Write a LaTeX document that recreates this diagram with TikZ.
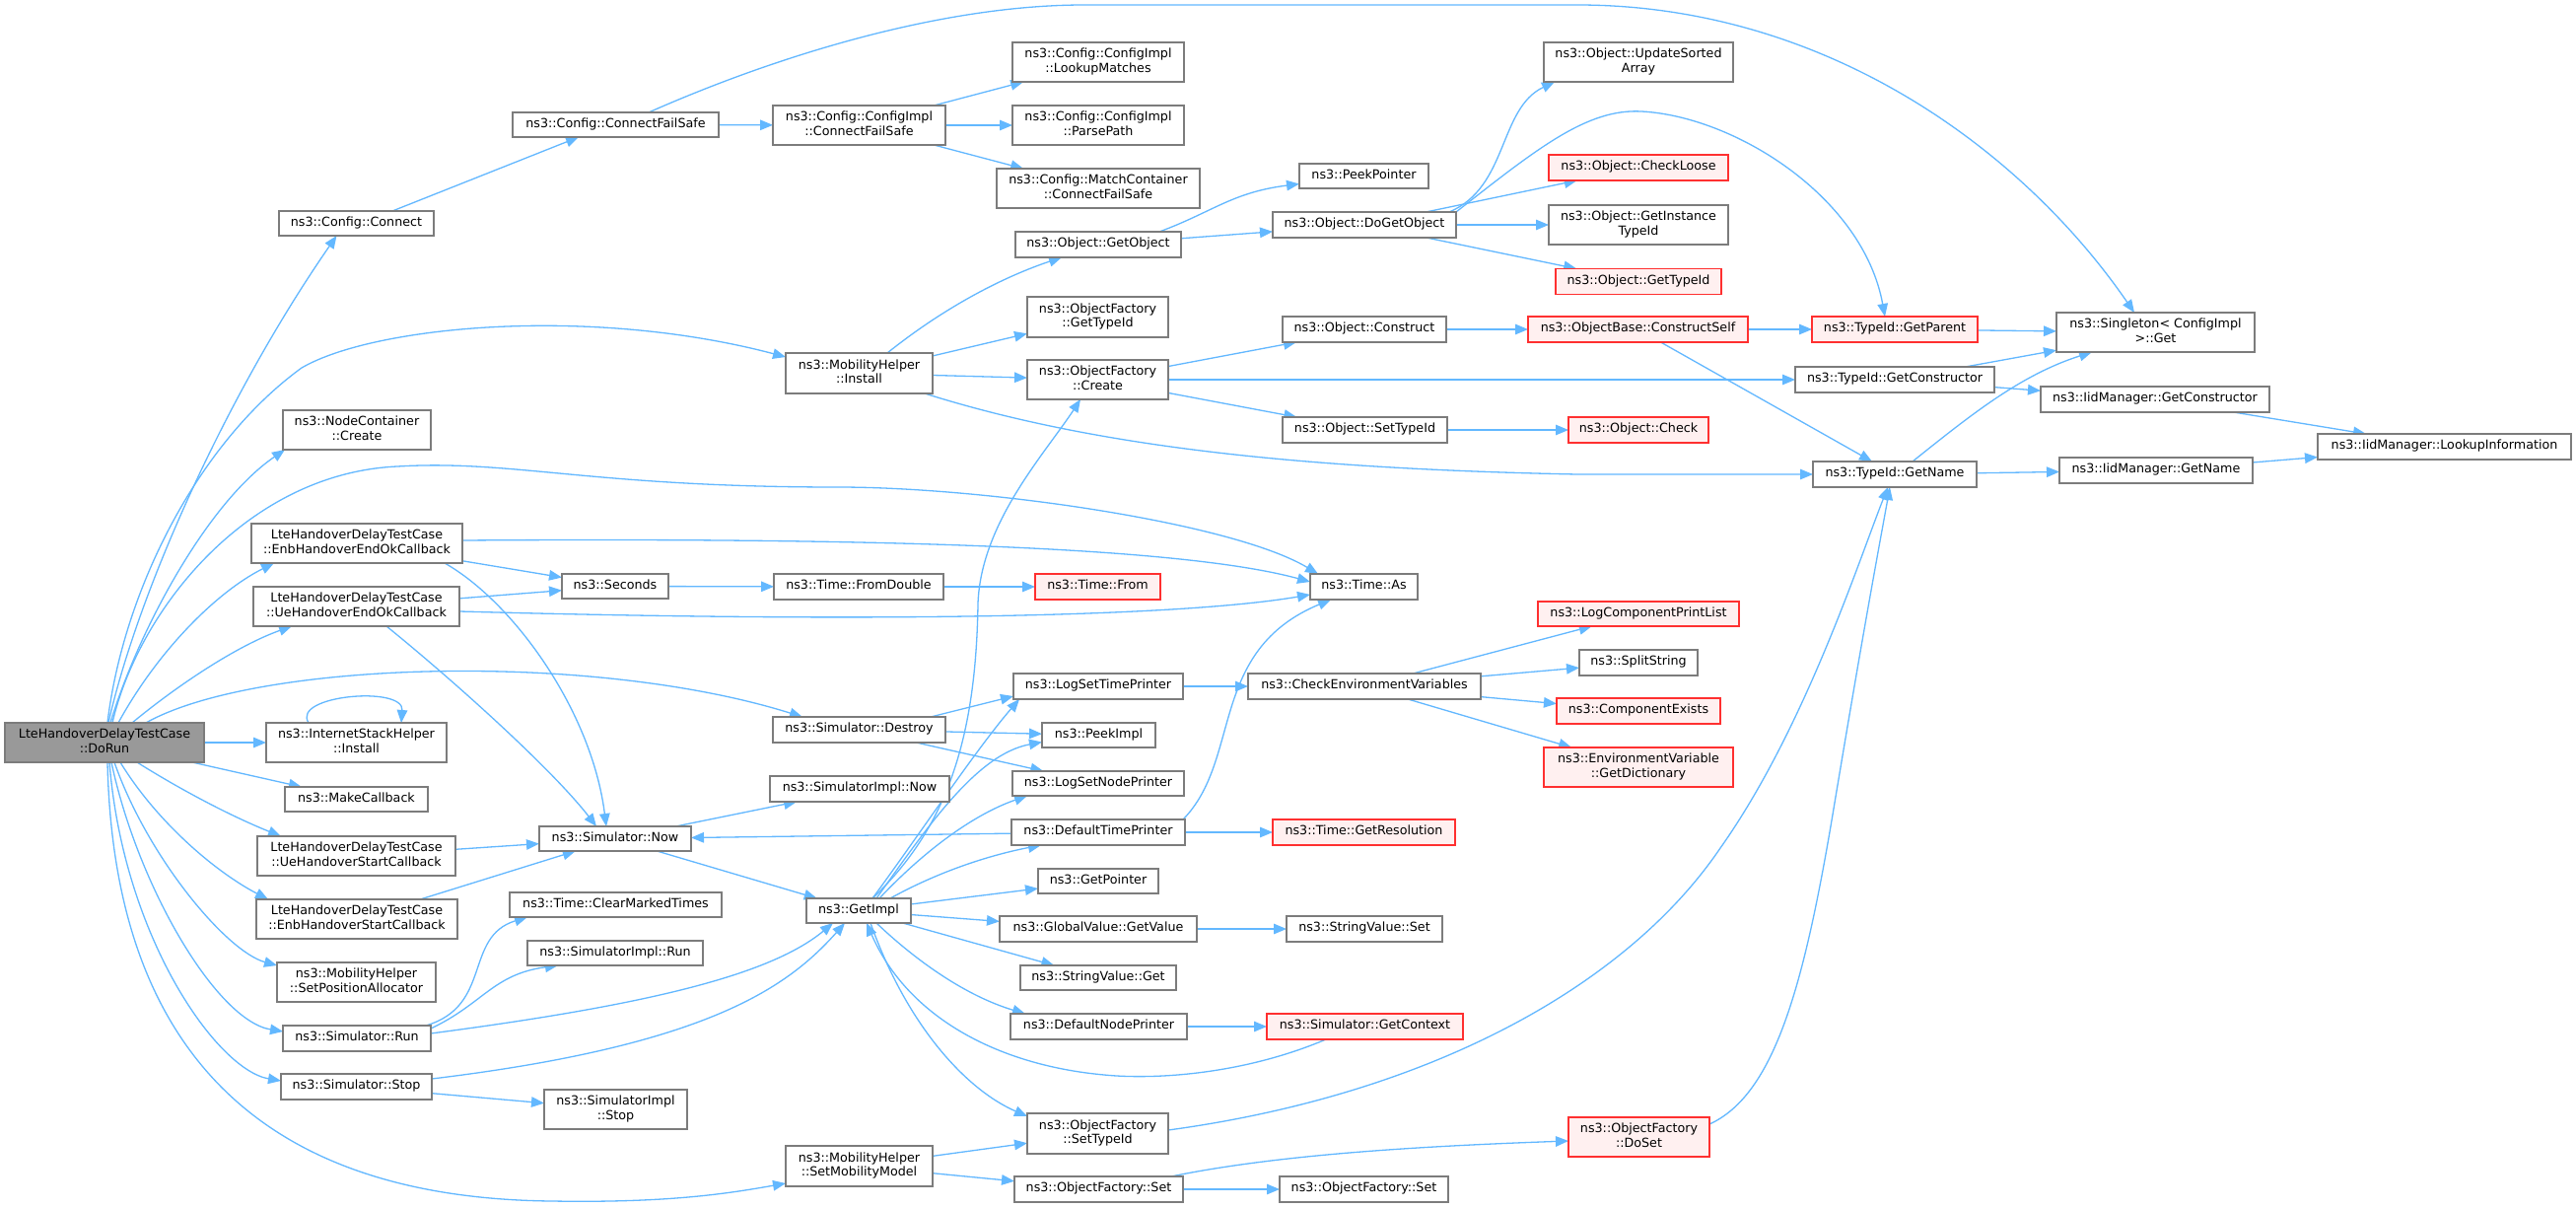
\documentclass[tikz,border=0pt]{standalone}
\usepackage{fontspec}
\setmainfont{DejaVu Sans}
\usetikzlibrary{arrows.meta}
\definecolor{edgec}{HTML}{63B8FF}
\definecolor{bord}{HTML}{7C7C7C}
\definecolor{redfill}{HTML}{FFF0F0}
\definecolor{rootfill}{HTML}{999999}
\definecolor{redbord}{HTML}{FF3030}
\pgfdeclarelayer{back}
\pgfdeclarelayer{edges}
\pgfsetlayers{back,edges,main}
\tikzset{
  box/.style={draw=bord, fill=white, line width=1.3pt, inner sep=0pt, outer sep=0pt, align=center,
    font=\fontsize{12.7}{14.4}\selectfont},
  redbox/.style={box, draw=redbord, fill=redfill},
  rootbox/.style={box, fill=rootfill},
  edge/.style={draw=edgec, line width=1.3pt, -{Triangle[length=13pt,width=10.5pt]}},
}
\newcommand\bx[7]{\node[#6, minimum width=#4pt, minimum height=#5pt] (#1) at (#2,#3) {#7};}
\begin{document}
\begin{tikzpicture}[x=1pt,y=-1pt]
\useasboundingbox (0,0) rectangle (2613,1225);
\begin{pgfonlayer}{back}
\fill[white] (0,0) rectangle (2613,1225);
\end{pgfonlayer}
% column 0
\bx{dorun}{106}{753}{202}{40}{rootbox}{\strut LteHandoverDelayTestCase\\\strut ::DoRun}
% column 1
\bx{connect}{361.5}{226.5}{157}{25}{box}{\strut ns3::Config::Connect}
\bx{nodecont}{362}{436}{150}{40}{box}{\strut ns3::NodeContainer\\\strut ::Create}
\bx{enbEndOk}{362}{551}{214}{40}{box}{\strut LteHandoverDelayTestCase\\\strut ::EnbHandoverEndOkCallback}
\bx{ueEndOk}{361.5}{615}{209}{40}{box}{\strut LteHandoverDelayTestCase\\\strut ::UeHandoverEndOkCallback}
\bx{inet}{361.5}{753}{183}{40}{box}{\strut ns3::InternetStackHelper\\\strut ::Install}
\bx{makecb}{361.5}{810.5}{145}{25}{box}{\strut ns3::MakeCallback}
\bx{ueStart}{361.5}{868}{201}{40}{box}{\strut LteHandoverDelayTestCase\\\strut ::UeHandoverStartCallback}
\bx{enbStart}{362}{932}{204}{40}{box}{\strut LteHandoverDelayTestCase\\\strut ::EnbHandoverStartCallback}
\bx{setPos}{361.5}{996}{161}{40}{box}{\strut ns3::MobilityHelper\\\strut ::SetPositionAllocator}
\bx{simRun}{362}{1053}{150}{26}{box}{\strut ns3::Simulator::Run}
\bx{simStop}{361.5}{1102}{153}{26}{box}{\strut ns3::Simulator::Stop}
% column 2
\bx{cfs}{624.5}{126.5}{209}{25}{box}{\strut ns3::Config::ConnectFailSafe}
\bx{seconds}{624}{594.5}{108}{25}{box}{\strut ns3::Seconds}
\bx{simNow}{624}{850.5}{154}{25}{box}{\strut ns3::Simulator::Now}
\bx{clearMarked}{624.5}{917.5}{215}{25}{box}{\strut ns3::Time::ClearMarkedTimes}
\bx{implRun}{624}{966.5}{178}{25}{box}{\strut ns3::SimulatorImpl::Run}
\bx{implStop}{624.5}{1125}{145}{40}{box}{\strut ns3::SimulatorImpl\\\strut ::Stop}
% column 3
\bx{cicfs}{871.5}{127}{175}{40}{box}{\strut ns3::Config::ConfigImpl\\\strut ::ConnectFailSafe}
\bx{mobInstall}{871.5}{378.5}{149}{41}{box}{\strut ns3::MobilityHelper\\\strut ::Install}
\bx{fromDouble}{871}{595}{172}{26}{box}{\strut ns3::Time::FromDouble}
\bx{simDestroy}{871.5}{740}{175}{26}{box}{\strut ns3::Simulator::Destroy}
\bx{implNow}{872}{800}{182}{26}{box}{\strut ns3::SimulatorImpl::Now}
\bx{getImpl}{871}{923.5}{106}{25}{box}{\strut ns3::GetImpl}
\bx{setMob}{871.5}{1182.5}{149}{41}{box}{\strut ns3::MobilityHelper\\\strut ::SetMobilityModel}
% column 4
\bx{lookup}{1114}{63}{174}{40}{box}{\strut ns3::Config::ConfigImpl\\\strut ::LookupMatches}
\bx{parse}{1114}{127}{174}{40}{box}{\strut ns3::Config::ConfigImpl\\\strut ::ParsePath}
\bx{mccfs}{1114}{191}{206}{40}{box}{\strut ns3::Config::MatchContainer\\\strut ::ConnectFailSafe}
\bx{getObject}{1114}{248}{168}{26}{box}{\strut ns3::Object::GetObject}
\bx{ofGetTypeId}{1113.5}{321.5}{143}{41}{box}{\strut ns3::ObjectFactory\\\strut ::GetTypeId}
\bx{ofCreate}{1113.5}{385}{143}{40}{box}{\strut ns3::ObjectFactory\\\strut ::Create}
\bx{timeFrom}{1113.5}{595}{127}{26}{redbox}{\strut ns3::Time::From}
\bx{logSetTime}{1114}{696}{172}{26}{box}{\strut ns3::LogSetTimePrinter}
\bx{peekImpl}{1114.5}{745.5}{115}{25}{box}{\strut ns3::PeekImpl}
\bx{logSetNode}{1114}{794.5}{174}{25}{box}{\strut ns3::LogSetNodePrinter}
\bx{defTime}{1114}{844}{176}{26}{box}{\strut ns3::DefaultTimePrinter}
\bx{getPointer}{1114}{893.5}{122}{25}{box}{\strut ns3::GetPointer}
\bx{gvGet}{1114}{942}{200}{26}{box}{\strut ns3::GlobalValue::GetValue}
\bx{svGet}{1114}{991.5}{158}{25}{box}{\strut ns3::StringValue::Get}
\bx{defNode}{1114.5}{1041}{179}{26}{box}{\strut ns3::DefaultNodePrinter}
\bx{ofSetTypeId}{1113.5}{1149.5}{143}{41}{box}{\strut ns3::ObjectFactory\\\strut ::SetTypeId}
\bx{ofSet1}{1114.5}{1206}{171}{26}{box}{\strut ns3::ObjectFactory::Set}
% column 5
\bx{peekPointer}{1383.5}{178.5}{131}{25}{box}{\strut ns3::PeekPointer}
\bx{doGetObject}{1384}{228}{186}{26}{box}{\strut ns3::Object::DoGetObject}
\bx{objConstruct}{1384}{334}{166}{26}{box}{\strut ns3::Object::Construct}
\bx{objSetTypeId}{1384.5}{436}{167}{26}{box}{\strut ns3::Object::SetTypeId}
\bx{timeAs}{1383.5}{595}{109}{26}{box}{\strut ns3::Time::As}
\bx{checkEnv}{1384}{696}{236}{26}{box}{\strut ns3::CheckEnvironmentVariables}
\bx{getRes}{1383.5}{844}{185}{26}{redbox}{\strut ns3::Time::GetResolution}
\bx{svSet}{1384}{942}{158}{26}{box}{\strut ns3::StringValue::Set}
\bx{getContext}{1384.5}{1041}{199}{26}{redbox}{\strut ns3::Simulator::GetContext}
\bx{ofSet2}{1383.5}{1206}{171}{26}{box}{\strut ns3::ObjectFactory::Set}
% column 6
\bx{updateSorted}{1662}{63}{192}{40}{box}{\strut ns3::Object::UpdateSorted\\\strut Array}
\bx{checkLoose}{1662}{170}{182}{26}{redbox}{\strut ns3::Object::CheckLoose}
\bx{getInstTypeId}{1662}{228}{182}{40}{box}{\strut ns3::Object::GetInstance\\\strut TypeId}
\bx{objGetTypeId}{1662}{285.5}{168}{26}{redbox}{\strut ns3::Object::GetTypeId}
\bx{constructSelf}{1661.5}{334}{223}{26}{redbox}{\strut ns3::ObjectBase::ConstructSelf}
\bx{objCheck}{1662}{436}{142}{26}{redbox}{\strut ns3::Object::Check}
\bx{logCompPrint}{1662}{622.5}{204}{25}{redbox}{\strut ns3::LogComponentPrintList}
\bx{splitString}{1662}{672}{120}{26}{box}{\strut ns3::SplitString}
\bx{compExists}{1662}{721}{166}{26}{redbox}{\strut ns3::ComponentExists}
\bx{envDict}{1662}{778}{192}{40}{redbox}{\strut ns3::EnvironmentVariable\\\strut ::GetDictionary}
\bx{doSet}{1662.5}{1153}{143}{40}{redbox}{\strut ns3::ObjectFactory\\\strut ::DoSet}
% column 7
\bx{getParent}{1922}{334}{168}{26}{redbox}{\strut ns3::TypeId::GetParent}
\bx{getConstructor}{1922}{385}{202}{26}{box}{\strut ns3::TypeId::GetConstructor}
\bx{getName}{1922}{481}{166}{26}{box}{\strut ns3::TypeId::GetName}
% column 8
\bx{singleton}{2186.5}{337}{201}{40}{box}{\strut ns3::Singleton< ConfigImpl\\\strut >::Get}
\bx{iidGetConstructor}{2186}{405}{232}{26}{box}{\strut ns3::IidManager::GetConstructor}
\bx{iidGetName}{2187}{477}{196}{26}{box}{\strut ns3::IidManager::GetName}
% column 9
\bx{lookupInfo}{2479.5}{453}{257}{26}{box}{\strut ns3::IidManager::LookupInformation}

\begin{pgfonlayer}{edges}
% from DoRun
\draw[edge] ([xshift=3pt]dorun.north) .. controls (125,600) and (200,450) .. (306,373) .. controls (380,330) and (600,310) .. ([yshift=-4pt]mobInstall.north west);
\draw[edge] ([xshift=4pt]dorun.north) .. controls (140,600) and (230,400) .. ([xshift=-20pt]connect.south);
\draw[edge] ([xshift=6pt]dorun.north) .. controls (140,640) and (210,510) .. ([xshift=2pt]nodecont.south west);
\draw[edge] ([xshift=8pt]dorun.north) .. controls (140,620) and (250,480) .. (403,473) .. controls (520,466) and (600,494) .. (850,494) .. controls (1000,494) and (1250,530) .. ([xshift=8pt]timeAs.north west);
\draw[edge] ([xshift=14pt]dorun.north) .. controls (160,660) and (220,600) .. ([xshift=23pt]enbEndOk.south west);
\draw[edge] ([xshift=28pt]dorun.north) .. controls (180,695) and (240,655) .. ([xshift=39pt]ueEndOk.south west);
\draw[edge] ([xshift=42pt]dorun.north) .. controls (260,670) and (600,660) .. ([xshift=30pt]simDestroy.north west);
\draw[edge] (dorun) -- (inet);
\draw[edge] (dorun) -- (makecb);
\draw[edge] ([xshift=33pt]dorun.south) .. controls (190,805) and (240,830) .. ([xshift=24pt]ueStart.north west);
\draw[edge] ([xshift=16pt]dorun.south) .. controls (160,835) and (220,885) .. ([xshift=12pt]enbStart.north west);
\draw[edge] ([xshift=10pt]dorun.south) .. controls (150,870) and (230,965) .. ([yshift=-3pt]setPos.north west);
\draw[edge] ([xshift=7pt]dorun.south) .. controls (140,900) and (220,1035) .. ([yshift=-6pt]simRun.north west);
\draw[edge] ([xshift=5pt]dorun.south) .. controls (125,950) and (220,1085) .. ([yshift=-7pt]simStop.north west);
\draw[edge] ([xshift=3pt]dorun.south) .. controls (115,1050) and (250,1215) .. (560,1218) .. controls (680,1220) and (740,1210) .. ([yshift=3pt]setMob.south west);
\draw[edge] ([xshift=-48.5pt]inet.north) .. controls (295,705) and (410,695) .. ([xshift=45.5pt]inet.north);
% column 1 sources
\draw[edge] ([xshift=36.5pt]connect.north) -- ([xshift=-37.5pt]cfs.south);
\draw[edge] (ueStart) -- (simNow);
\draw[edge] (enbStart) -- (simNow);
\draw[edge] (enbEndOk) -- (seconds);
\draw[edge] ([yshift=3pt]enbEndOk.east) .. controls (900,545) and (1200,555) .. ([yshift=5pt]timeAs.west);
\draw[edge] ([xshift=-18pt]enbEndOk.south east) .. controls (520,610) and (600,720) .. ([xshift=-9pt]simNow.north);
\draw[edge] (ueEndOk) -- (seconds);
\draw[edge] ([yshift=-5pt]ueEndOk.east) .. controls (900,632) and (1200,625) .. ([yshift=-8pt]timeAs.west);
\draw[edge] ([xshift=30.5pt]ueEndOk.south) .. controls (460,690) and (560,780) .. ([xshift=-19pt]simNow.north);
\draw[edge] ([xshift=-5pt]simRun.north east) .. controls (500,1020) and (470,950) .. ([xshift=18pt]clearMarked.south west);
\draw[edge] ([yshift=-3pt]simRun.north east) .. controls (490,1018) and (500,988) .. ([xshift=31pt]implRun.south west);
\draw[edge] ([yshift=5pt]simRun.east) .. controls (650,1020) and (780,990) .. ([xshift=27pt]getImpl.south west);
\draw[edge] ([yshift=-5pt]simStop.north east) .. controls (720,1060) and (800,1000) .. ([xshift=39pt]getImpl.south west);
\draw[edge] (simStop) -- (implStop);
% column 2 sources
\draw[edge] (cfs) -- (cicfs);
\draw[edge] ([xshift=33.5pt]cfs.north) .. controls (780,60) and (950,5) .. (1100,5) -- (1600,5) .. controls (1850,5) and (2050,150) .. ([xshift=-21.5pt]singleton.north);
\draw[edge] (seconds) -- (fromDouble);
\draw[edge] (simNow) -- (implNow);
\draw[edge] (simNow) -- (getImpl);
% column 3 sources
\draw[edge] (cicfs) -- (lookup);
\draw[edge] (cicfs) -- (parse);
\draw[edge] (cicfs) -- (mccfs);
\draw[edge] ([xshift=28.5pt]mobInstall.north) .. controls (960,310) and (1020,280) .. ([xshift=47pt]getObject.south west);
\draw[edge] (mobInstall) -- (ofGetTypeId);
\draw[edge] (mobInstall) -- (ofCreate);
\draw[edge] ([xshift=-8pt]mobInstall.south east) .. controls (1100,450) and (1300,475) .. (1600,481) -- (getName.west);
\draw[edge] (fromDouble) -- (timeFrom);
\draw[edge] ([xshift=72.5pt]simDestroy.north) -- ([yshift=3pt]logSetTime.south west);
\draw[edge] (simDestroy) -- (peekImpl);
\draw[edge] (simDestroy) -- (logSetNode);
\draw[edge] ([xshift=14pt]getImpl.north) .. controls (960,840) and (990,750) .. (992,612) .. controls (995,530) and (1060,460) .. ([xshift=54pt]ofCreate.south west);
\draw[edge] ([xshift=14pt]getImpl.north) .. controls (930,850) and (990,760) .. ([xshift=6pt]logSetTime.south west);
\draw[edge] ([xshift=18pt]getImpl.north) .. controls (940,840) and (990,765) .. ([yshift=-7pt]peekImpl.west);
\draw[edge] ([xshift=21pt]getImpl.north) .. controls (940,860) and (990,825) .. ([xshift=15pt]logSetNode.south west);
\draw[edge] ([xshift=32pt]getImpl.north) .. controls (950,885) and (1000,868) .. ([xshift=30pt]defTime.south west);
\draw[edge] (getImpl) -- (getPointer);
\draw[edge] (getImpl) -- (gvGet);
\draw[edge] (getImpl) -- (svGet);
\draw[edge] ([xshift=18pt]getImpl.south) .. controls (930,975) and (980,1010) .. ([xshift=15pt]defNode.north west);
\draw[edge] ([xshift=12pt]getImpl.south) .. controls (920,1040) and (980,1105) .. ([yshift=-3pt]ofSetTypeId.north west);
\draw[edge] (setMob) -- (ofSetTypeId);
\draw[edge] (setMob) -- (ofSet1);
% column 4 sources
\draw[edge] ([xshift=-22pt]getObject.north east) .. controls (1230,215) and (1250,195) .. ([yshift=-8pt]peekPointer.west);
\draw[edge] (getObject) -- (doGetObject);
\draw[edge] (ofCreate) -- (objConstruct);
\draw[edge] (ofCreate) -- (getConstructor);
\draw[edge] (ofCreate) -- (objSetTypeId);
\draw[edge] (logSetTime) -- (checkEnv);
\draw[edge] (defTime) -- (simNow);
\draw[edge] ([xshift=-2pt]defTime.north east) .. controls (1260,770) and (1225,660) .. ([xshift=-33.5pt]timeAs.south);
\draw[edge] (defTime) -- (getRes);
\draw[edge] (gvGet) -- (svSet);
\draw[edge] (defNode) -- (getContext);
\draw[edge] ([yshift=3.5pt]ofSetTypeId.east) .. controls (1450,1110) and (1650,1000) .. (1745,860) .. controls (1830,740) and (1885,570) .. ([xshift=-7pt]getName.south);
\draw[edge] (ofSet1) -- (ofSet2);
\draw[edge] ([xshift=73.5pt]ofSet1.north) .. controls (1300,1170) and (1450,1162) .. ([yshift=-4pt]doSet.west);
% column 5 sources
\draw[edge] ([xshift=-7pt]doGetObject.north east) .. controls (1530,190) and (1520,110) .. ([xshift=11pt]updateSorted.south west);
\draw[edge] (doGetObject.north east) .. controls (1560,150) and (1610,110) .. (1665,113) .. controls (1760,118) and (1890,200) .. ([xshift=-10pt]getParent.north);
\draw[edge] (doGetObject) -- (checkLoose);
\draw[edge] (doGetObject) -- (getInstTypeId);
\draw[edge] (doGetObject) -- (objGetTypeId);
\draw[edge] (objConstruct) -- (constructSelf);
\draw[edge] (objSetTypeId) -- (objCheck);
\draw[edge] (checkEnv) -- (logCompPrint);
\draw[edge] (checkEnv) -- (splitString);
\draw[edge] (checkEnv) -- (compExists);
\draw[edge] (checkEnv) -- (envDict);
\draw[edge] ([xshift=-39.5pt]getContext.south) .. controls (1260,1090) and (1170,1095) .. (1120,1090) .. controls (1010,1080) and (920,1030) .. ([xshift=8pt]getImpl.south);
% column 6 sources
\draw[edge] (constructSelf) -- (getParent);
\draw[edge] (constructSelf) -- (getName);
\draw[edge] ([yshift=-7pt]doSet.north east) .. controls (1800,1110) and (1830,1000) .. (1860,820) .. controls (1890,640) and (1905,560) .. ([xshift=-5pt]getName.south);
% column 7 sources
\draw[edge] (getParent) -- (singleton);
\draw[edge] (getConstructor) -- (singleton);
\draw[edge] (getConstructor) -- (iidGetConstructor);
\draw[edge] ([xshift=18pt]getName.north) .. controls (2000,420) and (2050,380) .. ([xshift=-64.5pt]singleton.south);
\draw[edge] (getName) -- (iidGetName);
% column 8 sources
\draw[edge] (iidGetConstructor) -- (lookupInfo);
\draw[edge] (iidGetName) -- (lookupInfo);
\end{pgfonlayer}
\end{tikzpicture}
\end{document}
